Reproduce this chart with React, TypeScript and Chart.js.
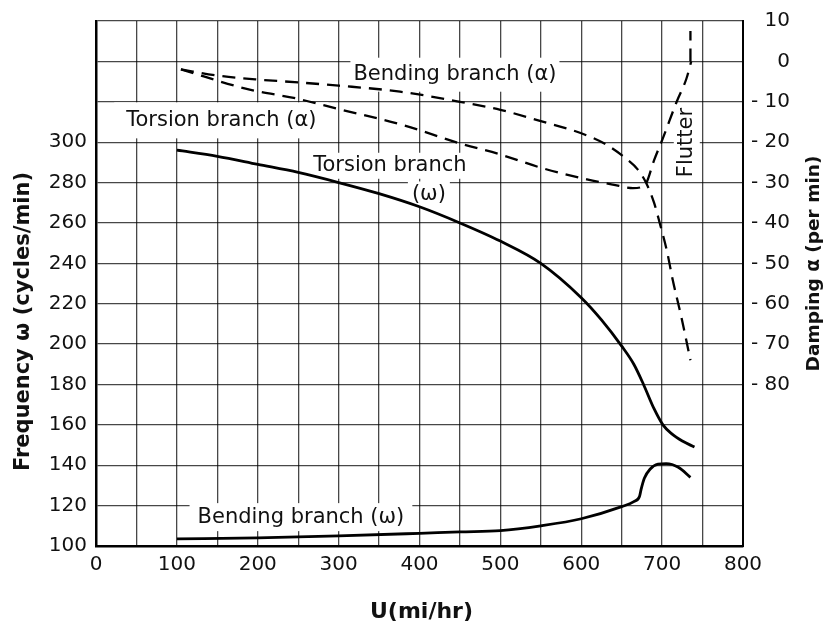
import React, { useEffect, useRef } from 'react';
import { Chart, registerables } from 'chart.js';

Chart.register(...registerables);

const FONT = "'DejaVu Sans', sans-serif";

// Torsion branch, frequency (left axis)
const torsionOmegaU = [100, 150, 200, 250, 300, 350, 400, 450, 500, 550, 600, 625, 650, 665, 677, 690, 701, 712, 725, 740];
const torsionOmega = [296, 293, 289, 285, 280, 274.5, 268, 260, 251, 240, 223, 212, 199, 190, 180, 168, 160, 155.5, 152, 149];

// Bending branch, frequency (left axis)
const bendingOmegaU = [100, 200, 300, 400, 450, 500, 550, 600, 650, 665, 672, 674, 678, 685, 695, 705, 720, 735];
const bendingOmega = [103.5, 104, 105, 106.3, 107, 107.6, 110, 113.5, 119.5, 122, 124.5, 128, 133.5, 138, 140.5, 140.8, 139, 134];

// Bending branch, damping (right axis)
const bendingAlphaU = [105, 150, 200, 250, 300, 376, 450, 500, 550, 600, 630, 655, 670, 680, 690, 697, 706, 713, 724, 735];
const bendingAlpha = [-2, -3.5, -4.5, -5.2, -6, -7.5, -10, -12, -14.8, -17.8, -20.5, -24, -26.8, -30, -35, -40, -47, -54, -63.5, -74];

// Torsion branch, damping (right axis)
const torsionAlphaU = [105, 190, 248, 298, 380, 450, 499, 553, 607, 639, 664, 679, 690, 701, 718, 730, 736];
const torsionAlpha = [-2, -7, -9.2, -11.7, -15.8, -20.3, -23, -26.5, -29.2, -30.5, -31.4, -30.5, -24.5, -19, -10, -4.3, 0];

// Flutter marker (right axis)
const flutterU = [735, 735];
const flutterAlpha = [0, 7.5];

const xMin = 0, xMax = 800, xStep = 50;
const yLeftMin = 100, yLeftMax = 360, yLeftStep = 20, yLeftLabelMax = 300;
const yRightMin = -120, yRightMax = 10, yRightStep = 10, yRightLabelMin = -80;

const toPts = (xs: number[], ys: number[]) => xs.map((x, i) => ({ x, y: ys[i] }));

type Note = { text: string; u: number; v: number; axis: 'yL' | 'yR'; rotate?: boolean; padX: number; halfH: number };

const notes: Note[] = [
  { text: 'Bending branch (α)', u: 443.8, v: -3.3, axis: 'yR', padX: 3, halfH: 17 },
  { text: 'Torsion branch (α)', u: 155, v: -14.6, axis: 'yR', padX: 12, halfH: 18 },
  { text: 'Torsion branch', u: 363.4, v: 288.3, axis: 'yL', padX: 4, halfH: 13 },
  { text: '(ω)', u: 411.6, v: 274.1, axis: 'yL', padX: 4, halfH: 13 },
  { text: 'Bending branch (ω)', u: 253.4, v: 114.3, axis: 'yL', padX: 8, halfH: 14 },
  { text: 'Flutter', u: 730.5, v: -20.1, axis: 'yR', rotate: true, padX: 4, halfH: 13 },
];

const NOTE_FONT = `21px ${FONT}`;

const notesPlugin = {
  id: 'notes',
  beforeDatasetsDraw(chart: any) {
    const ctx = chart.ctx;
    ctx.save();
    ctx.font = NOTE_FONT;
    ctx.fillStyle = '#fff';
    for (const n of notes) {
      const px = chart.scales.x.getPixelForValue(n.u);
      const py = chart.scales[n.axis].getPixelForValue(n.v);
      const w = ctx.measureText(n.text).width;
      if (n.rotate) {
        ctx.fillRect(px - n.halfH, py - w / 2 - n.padX, n.halfH * 2, w + n.padX * 2);
      } else {
        ctx.fillRect(px - w / 2 - n.padX, py - n.halfH, w + n.padX * 2, n.halfH * 2);
      }
    }
    ctx.restore();
  },
  afterDatasetsDraw(chart: any) {
    const ctx = chart.ctx;
    ctx.save();
    ctx.font = NOTE_FONT;
    ctx.fillStyle = '#111';
    ctx.textAlign = 'center';
    ctx.textBaseline = 'middle';
    for (const n of notes) {
      const px = chart.scales.x.getPixelForValue(n.u);
      const py = chart.scales[n.axis].getPixelForValue(n.v);
      if (n.rotate) {
        ctx.save();
        ctx.translate(px, py);
        ctx.rotate(-Math.PI / 2);
        ctx.fillText(n.text, 0, 0);
        ctx.restore();
      } else {
        ctx.fillText(n.text, px, py);
      }
    }
    // axis titles
    const area = chart.chartArea;
    ctx.font = `bold 21px ${FONT}`;
    ctx.save();
    ctx.translate(24, (area.top + area.bottom) / 2 + 38);
    ctx.rotate(-Math.PI / 2);
    ctx.fillText('Frequency ω (cycles/min)', 0, 0);
    ctx.restore();
    ctx.font = `bold 18.5px ${FONT}`;
    ctx.save();
    ctx.translate(814, (area.top + area.bottom) / 2 - 20);
    ctx.rotate(-Math.PI / 2);
    ctx.fillText('Damping α (per min)', 0, 0);
    ctx.restore();
    ctx.font = `bold 22px ${FONT}`;
    ctx.fillText('U(mi/hr)', (area.left + area.right) / 2 + 2, 612);
    ctx.restore();
  },
};

export default function App() {
  const ref = useRef<HTMLCanvasElement | null>(null);

  useEffect(() => {
    if (!ref.current) return;
    const solid = { borderColor: '#000', borderWidth: 2.8, pointRadius: 0, showLine: true, cubicInterpolationMode: 'monotone', fill: false };
    const dashed = { borderColor: '#000', borderWidth: 2.3, borderDash: [13, 8], pointRadius: 0, showLine: true, cubicInterpolationMode: 'monotone', fill: false };
    const gridColor = 'rgba(0,0,0,0.72)';
    const chart = new Chart(ref.current, {
      type: 'scatter',
      data: {
        datasets: [
          { label: 'Torsion branch (ω)', data: toPts(torsionOmegaU, torsionOmega), yAxisID: 'yL', ...solid },
          { label: 'Bending branch (ω)', data: toPts(bendingOmegaU, bendingOmega), yAxisID: 'yL', ...solid },
          { label: 'Bending branch (α)', data: toPts(bendingAlphaU, bendingAlpha), yAxisID: 'yR', ...dashed },
          { label: 'Torsion branch (α)', data: toPts(torsionAlphaU, torsionAlpha), yAxisID: 'yR', ...dashed },
          { label: 'Flutter', data: toPts(flutterU, flutterAlpha), yAxisID: 'yR', ...dashed, cubicInterpolationMode: 'default', tension: 0 },
        ],
      },
      options: {
        responsive: false,
        animation: false,
        devicePixelRatio: 1,
        layout: { padding: { top: 19, left: 0, right: 39, bottom: 0 } },
        plugins: { legend: { display: false }, tooltip: { enabled: false } },
        scales: {
          x: {
            type: 'linear',
            min: xMin,
            max: xMax,
            afterFit: (s: any) => { s.height = 80; },
            grid: { color: gridColor, lineWidth: 1.3, drawTicks: false },
            border: { color: '#000', width: 2.5 },
            ticks: {
              stepSize: xStep,
              autoSkip: false,
              maxRotation: 0,
              padding: 7,
              color: '#111',
              font: { family: FONT, size: 20 },
              callback: (v: any) => (Number(v) % 100 === 0 ? String(v) : ''),
            },
          },
          yL: {
            type: 'linear',
            position: 'left',
            min: yLeftMin,
            max: yLeftMax,
            afterFit: (s: any) => { s.width = 96; },
            grid: { color: gridColor, lineWidth: 1.3, drawTicks: false },
            border: { color: '#000', width: 2.5 },
            ticks: {
              stepSize: yLeftStep,
              autoSkip: false,
              padding: 9,
              color: '#111',
              font: { family: FONT, size: 20 },
              callback: (v: any) => (Number(v) <= yLeftLabelMax ? String(v) : ''),
            },
          },
          yR: {
            type: 'linear',
            position: 'right',
            min: yRightMin,
            max: yRightMax,
            afterFit: (s: any) => { s.width = 47; },
            grid: { display: false, drawTicks: false },
            border: { color: '#000', width: 2 },
            ticks: {
              stepSize: yRightStep,
              autoSkip: false,
              padding: 7,
              crossAlign: 'far',
              color: '#111',
              font: { family: FONT, size: 20 },
              callback: (v: any) => {
                const n = Number(v);
                if (n < yRightLabelMin) return '';
                return n < 0 ? `- ${-n}` : String(n);
              },
            },
          },
        },
      } as any,
      plugins: [notesPlugin],
    });
    return () => chart.destroy();
  }, []);

  return (
    <div style={{ position: 'fixed', left: 0, top: 0, width: 829, height: 626, background: '#fff' }}>
      <canvas ref={ref} width={829} height={626} style={{ display: 'block' }} />
    </div>
  );
}
